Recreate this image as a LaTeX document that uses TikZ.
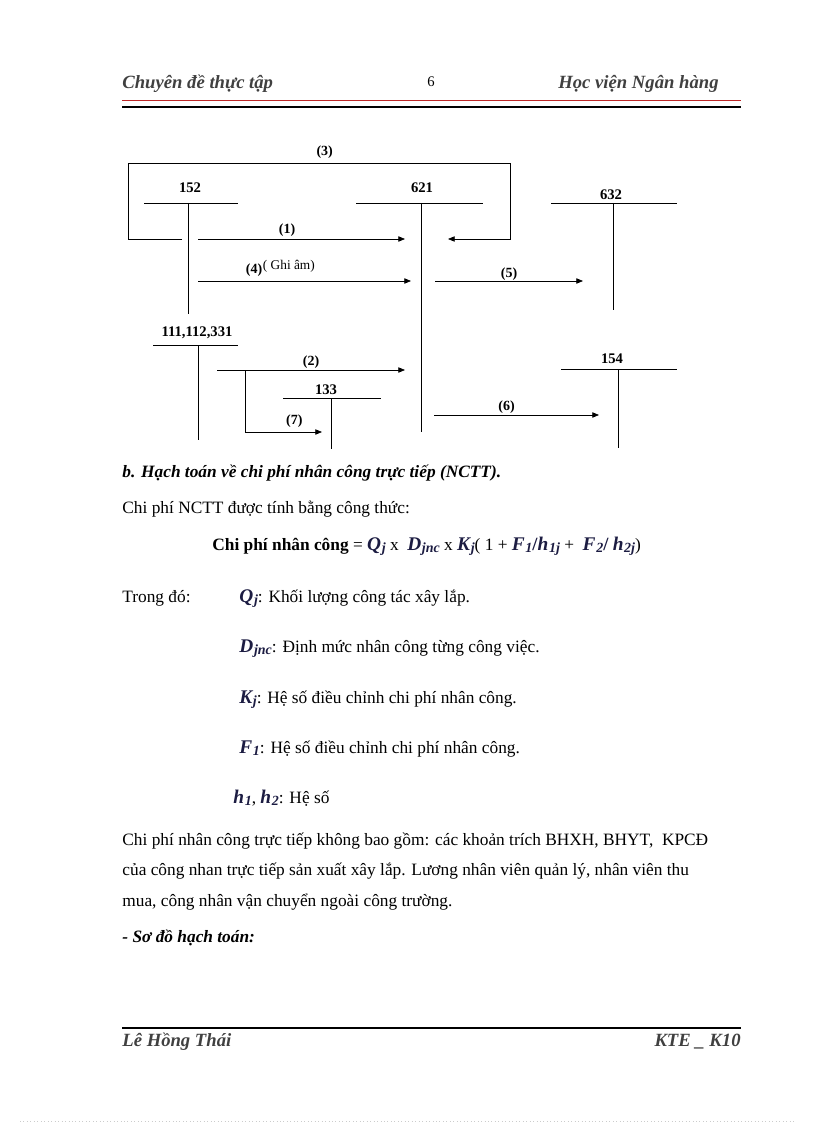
\documentclass[tikz,border=0pt]{standalone}
\usepackage{fontspec}
\setmainfont{Liberation Serif}
\usetikzlibrary{arrows.meta}
\definecolor{hdrred}{RGB}{190,40,40}
\definecolor{mathblue}{RGB}{28,28,66}
\newcommand{\bvar}[2]{\textcolor{mathblue}{\bfseries\itshape{\fontsize{14.5}{15}\selectfont #1}\kern0.5pt\raisebox{-0.35ex}{\fontsize{10.5}{11}\selectfont #2}}}
\newcommand{\bslash}{\textcolor{mathblue}{\bfseries\fontsize{14}{15}\selectfont /}}

\begin{document}
\begin{tikzpicture}[x=0.75pt,y=-0.75pt,line width=0.6pt,
  >={Triangle[length=5pt,width=4pt]},
  acc/.style={anchor=base,inner sep=0pt,font=\fontsize{11}{13}\selectfont\bfseries},
  lbl/.style={above,inner sep=1.5pt,font=\fontsize{10.5}{12}\selectfont\bfseries},
  body/.style={anchor=base west,inner sep=0pt,font=\fontsize{13}{15}\selectfont},
  head/.style={inner sep=0pt,font=\fontsize{14}{16}\selectfont\bfseries\itshape,text=black!75}]
  \useasboundingbox (0,0) rectangle (816,1123);

  % header and footer
  \node[head,anchor=base west] (hl) at (122,89) {Chuyên đề thực tập};
  \node[anchor=base,inner sep=0pt,font=\fontsize{11}{13}\selectfont] (pg) at (431,87) {6};
  \node[head,anchor=base east] (hr) at (719,89) {Học viện Ngân hàng};
  \draw[hdrred,line width=0.5pt] (122,100) -- (741,100);
  \draw[line width=2pt] (122,107) -- (741,107);
  \draw[line width=2pt] (122,1028) -- (741,1028);
  \node[head,anchor=base west] (fl) at (122,1046) {Lê Hồng Thái};
  \node[head,anchor=base east] (fr) at (741,1046) {KTE \_ K10};
  \draw[gray!40,dotted] (20,1121) -- (795,1121);

  % T accounts
  \node[acc] (a152) at (190,193) {152};
  \draw (144,203) -- (238,203) (188,203) -- (188,314);
  \node[acc] (a621) at (422,193) {621};
  \draw (356,203) -- (483,203) (421,203) -- (421,432);
  \node[acc] (a632) at (611,200) {632};
  \draw (551,203) -- (677,203) (613,203) -- (613,310);
  \node[acc] (a111) at (197,336) {111,112,331};
  \draw (153,345) -- (238,345) (198,345) -- (198,440);
  \node[acc] (a133) at (326,394) {133};
  \draw (283,398) -- (381,398) (331,398) -- (331,449);
  \node[acc] (a154) at (612,363) {154};
  \draw (561,369) -- (677,369) (618,369) -- (618,448);

  % entries
  \coordinate (s3) at (182,239);
  \coordinate (e3) at (448,239);
  \draw[->] (s3) -- (128,239) -- (128,163) -- node[lbl,pos=0.515,inner sep=3pt] {(3)} (510,163) -- (510,239) -- (e3);
  \coordinate (s1) at (198,239);
  \coordinate (e1) at (405,239);
  \draw[->] (s1) -- node[lbl,pos=0.43] {(1)} (e1);
  \coordinate (s4) at (198,281);
  \coordinate (e4) at (411,281);
  \draw[->] (s4) -- (e4);
  \node[lbl,inner sep=0pt] (n4) at (254,277) {(4)};
  \node[anchor=west,inner sep=0pt,font=\fontsize{10}{12}\selectfont] (ghi) at ([yshift=-2pt]n4.north east) {( Ghi âm)};
  \coordinate (s5) at (435,281);
  \coordinate (e5) at (583,281);
  \draw[->] (s5) -- node[lbl,inner sep=0pt] {(5)} (e5);
  \coordinate (s2) at (217,370);
  \coordinate (e2) at (405,370);
  \draw[->] (s2) -- node[lbl,inner sep=1pt] {(2)} (e2);
  \coordinate (b7) at (245,370);
  \coordinate (e7) at (322,432);
  \draw[->] (b7) |- node[lbl,pos=0.82,inner sep=3pt] {(7)} (e7);
  \coordinate (s6) at (434,415);
  \coordinate (e6) at (599,415);
  \draw[->] (s6) -- node[lbl,pos=0.44,inner sep=1pt] {(6)} (e6);

  % text
  \node[body,font=\fontsize{13}{15}\selectfont\bfseries\itshape] (t1) at (122,477) {b. Hạch toán về chi phí nhân công trực tiếp (NCTT).};
  \node[body] (t2) at (122,513) {Chi phí NCTT được tính bằng công thức:};
  \node[body] (t3) at (212,550) {\textbf{Chi phí nhân công} = \bvar{Q}{j} x \ \bvar{D}{jnc} x \bvar{K}{j}( 1 + \bvar{F}{1}\bslash\bvar{h}{1j} + \ \bvar{F}{2}\bslash\ \bvar{h}{2j})};
  \node[body] (t4) at (122,602) {Trong đó:};
  \node[body] (t5) at (239,602) {\bvar{Q}{j}: Khối lượng công tác xây lắp.};
  \node[body] (t6) at (239,652) {\bvar{D}{jnc}: Định mức nhân công từng công việc.};
  \node[body] (t7) at (239,703) {\bvar{K}{j}: Hệ số điều chỉnh chi phí nhân công.};
  \node[body] (t8) at (239,753) {\bvar{F}{1}: Hệ số điều chỉnh chi phí nhân công.};
  \node[body] (t9) at (233,803) {\bvar{h}{1}, \bvar{h}{2}: Hệ số};
  \node[body] (t10) at (122,845) {Chi phí nhân công trực tiếp không bao gồm: các khoản trích BHXH, BHYT, \ KPCĐ};
  \node[body] (t11) at (122,875) {của công nhan trực tiếp sản xuất xây lắp. Lương nhân viên quản lý, nhân viên thu};
  \node[body] (t12) at (122,906) {mua, công nhân vận chuyển ngoài công trường.};
  \node[body,font=\fontsize{13}{15}\selectfont\bfseries\itshape] (t13) at (122,942) {- Sơ đồ hạch toán:};
\end{tikzpicture}
\end{document}
